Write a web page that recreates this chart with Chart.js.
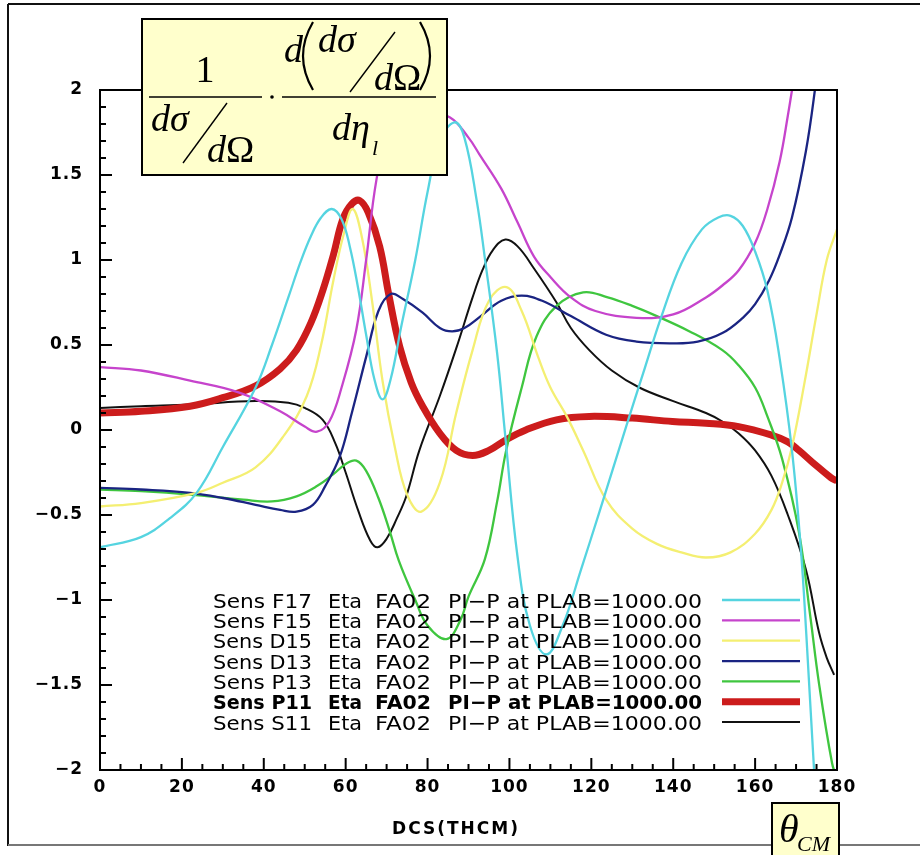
<!DOCTYPE html>
<html>
<head>
<meta charset="utf-8">
<script src="https://cdn.jsdelivr.net/npm/chart.js@4.4.1/dist/chart.umd.min.js"></script>
<style>
  html, body { margin: 0; padding: 0; background: #fff; overflow: hidden; }
  canvas { display: block; }
</style>
</head>
<body>
<canvas id="sensibilidade" width="920" height="855"></canvas>
<script>
// valores (x em graus, y = sensibilidade)
var xF17 = [0, 10, 17, 23.6, 30, 38, 42, 46, 49, 51.5, 54, 56.6, 59, 61, 63, 65, 67, 69, 71, 73.5, 77, 80, 83, 86.6, 89, 92, 94, 97, 99, 102, 105, 109, 113, 117.5, 122, 128.5, 133, 137, 142, 147, 151, 154, 157, 160, 163, 166, 169, 171.2, 172.5, 174.4, 176];
var yF17 = [-0.69, -0.63, -0.52, -0.37, -0.10, 0.25, 0.50, 0.78, 0.99, 1.14, 1.25, 1.30, 1.24, 1.08, 0.84, 0.56, 0.30, 0.18, 0.30, 0.60, 1.00, 1.40, 1.70, 1.81, 1.72, 1.35, 1.01, 0.45, -0.04, -0.75, -1.15, -1.32, -1.15, -0.82, -0.48, 0.02, 0.36, 0.66, 0.98, 1.18, 1.25, 1.26, 1.20, 1.05, 0.82, 0.42, -0.12, -0.71, -1.20, -2.00, -2.60];

var xF15 = [0, 10, 22, 34, 44, 50, 53, 56, 59, 62.6, 65, 67.5, 70, 74, 80, 85.4, 90, 92.7, 98, 102, 106, 110, 115, 121, 131, 140, 148, 152, 156, 160, 163, 166, 168, 170];
var yF15 = [0.37, 0.35, 0.29, 0.22, 0.11, 0.02, -0.01, 0.05, 0.25, 0.59, 1.00, 1.47, 1.70, 1.82, 1.86, 1.84, 1.72, 1.62, 1.42, 1.22, 1.02, 0.90, 0.78, 0.70, 0.66, 0.68, 0.78, 0.85, 0.94, 1.10, 1.30, 1.58, 1.85, 2.15];

var xD15 = [0, 10, 23.6, 30, 38, 45, 50.5, 54, 57, 59.5, 61.7, 64, 66.5, 69, 72, 75, 78.5, 83, 87, 91, 95, 99.3, 103, 107, 110, 114, 118, 123.6, 130, 136, 142, 148, 154, 160, 164, 166.6, 169, 172, 175, 177.5, 180];
var yD15 = [-0.45, -0.43, -0.37, -0.31, -0.22, -0.03, 0.20, 0.50, 0.88, 1.15, 1.30, 1.13, 0.75, 0.29, -0.10, -0.38, -0.48, -0.31, 0.10, 0.47, 0.76, 0.84, 0.70, 0.43, 0.25, 0.08, -0.12, -0.41, -0.58, -0.67, -0.72, -0.75, -0.72, -0.61, -0.47, -0.31, -0.10, 0.27, 0.68, 1.00, 1.18];

var xD13 = [0, 10, 22, 30, 38, 44, 48, 52, 55, 58.5, 61.5, 65, 68, 71, 74, 78.8, 83, 86, 89, 93, 98, 103, 108, 115, 123.6, 131, 139.8, 146, 152, 157, 160, 163.4, 166, 169, 172.4, 174.6, 176];
var yD13 = [-0.34, -0.35, -0.37, -0.40, -0.44, -0.47, -0.48, -0.44, -0.33, -0.16, 0.10, 0.43, 0.70, 0.80, 0.77, 0.69, 0.60, 0.58, 0.60, 0.67, 0.76, 0.79, 0.76, 0.67, 0.56, 0.52, 0.51, 0.52, 0.57, 0.66, 0.74, 0.88, 1.03, 1.25, 1.64, 2.00, 2.30];

var xP13 = [0, 10, 22, 35, 42, 48, 53, 57, 60, 62.6, 65, 68, 70.7, 73, 77, 80, 84.6, 88, 90, 94, 97, 99.2, 103, 106.6, 111.5, 118, 124, 130, 136, 144, 152, 156, 160, 163, 166.6, 170.7, 173.5, 175.6, 178.8, 180];
var yP13 = [-0.35, -0.36, -0.38, -0.41, -0.42, -0.39, -0.33, -0.26, -0.20, -0.18, -0.24, -0.40, -0.59, -0.77, -1.00, -1.15, -1.23, -1.12, -0.98, -0.76, -0.42, -0.12, 0.25, 0.55, 0.73, 0.81, 0.78, 0.73, 0.67, 0.58, 0.47, 0.38, 0.25, 0.08, -0.17, -0.60, -1.10, -1.49, -1.96, -2.05];

var xP11 = [0, 10, 22, 30, 38, 44, 48, 51.5, 54.4, 57, 59.3, 61.5, 63.4, 65.5, 68.3, 70.5, 73.2, 76, 78.8, 83, 87, 91, 95, 99, 104, 111.5, 119.5, 130, 139.8, 148, 156, 164, 168, 170.7, 174, 178.5, 180];
var yP11 = [0.10, 0.11, 0.14, 0.19, 0.26, 0.36, 0.47, 0.63, 0.82, 1.03, 1.24, 1.33, 1.35, 1.28, 1.08, 0.80, 0.49, 0.28, 0.14, -0.02, -0.12, -0.15, -0.12, -0.06, 0.00, 0.06, 0.08, 0.07, 0.05, 0.04, 0.02, -0.03, -0.07, -0.12, -0.19, -0.28, -0.30];

var xS11 = [0, 10, 22, 38, 46, 50, 54.4, 57.5, 60, 63, 66, 67.8, 70, 72.5, 74.8, 78, 83, 87, 91, 93.4, 96, 99, 102, 106, 111.5, 115, 119.5, 125, 131.7, 140, 148, 152, 156, 160, 164, 168, 172.4, 175.6, 177.5, 179.3];
var yS11 = [0.13, 0.14, 0.15, 0.17, 0.16, 0.13, 0.06, -0.08, -0.25, -0.47, -0.65, -0.69, -0.64, -0.52, -0.39, -0.12, 0.20, 0.48, 0.78, 0.94, 1.06, 1.12, 1.08, 0.95, 0.75, 0.60, 0.47, 0.35, 0.25, 0.17, 0.10, 0.05, -0.02, -0.12, -0.27, -0.50, -0.82, -1.19, -1.34, -1.44];

var nomes = ["Sens F17", "Sens F15", "Sens D15", "Sens D13", "Sens P13", "Sens P11", "Sens S11"];
var colunasLegenda = ["Eta", "FA02", "PI\u2212P at PLAB=1000.00"];
var cores = ["#55d4e0", "#c644cc", "#f4ef72", "#1a2482", "#3fc63f", "#cc1c1c", "#111111"];
var espessuras = [2.3, 2.3, 2.3, 2.3, 2.3, 7, 2];

var xs = [xF17, xF15, xD15, xD13, xP13, xP11, xS11];
var ys = [yF17, yF15, yD15, yD13, yP13, yP11, yS11];

function pontos(x, y) {
    return x.map(function (v, i) { return { x: v, y: y[i] }; });
}

var conjuntos = nomes.map(function (nome, i) {
    return {
        label: nome,
        data: pontos(xs[i], ys[i]),
        borderColor: cores[i],
        borderWidth: espessuras[i],
        fill: false,
        clip: 0
    };
});

function traco(ctx, x1, y1, x2, y2) {
    ctx.beginPath();
    ctx.moveTo(x1, y1);
    ctx.lineTo(x2, y2);
    ctx.stroke();
}

function serif(ctx, s, x, y, tam, italico) {
    ctx.font = (italico ? 'italic ' : '') + tam + 'px "Liberation Serif", "Times New Roman", serif';
    ctx.fillText(s, x, y);
}

function parentese(ctx, x0, xm, y0, y1) {
    ctx.beginPath();
    ctx.moveTo(x0, y0);
    ctx.quadraticCurveTo(xm, (y0 + y1) / 2, x0, y1);
    ctx.stroke();
}

// texto esticado para ocupar a largura entre x0 e x1
function textoAjustado(ctx, s, x0, x1, y) {
    var w = ctx.measureText(s).width;
    ctx.save();
    ctx.translate(x0, y);
    ctx.scale((x1 - x0) / w, 1);
    ctx.fillText(s, 0, 0);
    ctx.restore();
}

function formula(ctx) {
    ctx.fillStyle = '#ffffcc';
    ctx.fillRect(142, 19, 305, 156);
    ctx.lineWidth = 2;
    ctx.strokeStyle = '#000';
    ctx.strokeRect(142, 19, 305, 156);

    ctx.fillStyle = '#000';
    ctx.textBaseline = 'alphabetic';
    ctx.lineWidth = 1.4;

    // 1 / (dσ/dΩ)
    ctx.textAlign = 'center';
    serif(ctx, '1', 205, 82, 38, false);
    ctx.textAlign = 'left';
    traco(ctx, 149, 97, 262, 97);
    serif(ctx, 'd\u03c3', 151, 131, 38, true);
    traco(ctx, 183, 163, 227, 103);
    serif(ctx, 'd', 207, 162, 38, true);
    serif(ctx, '\u03a9', 226, 162, 38, false);

    ctx.beginPath();
    ctx.arc(272, 97, 1.8, 0, Math.PI * 2);
    ctx.fill();

    // d(dσ/dΩ) / dη_l
    traco(ctx, 282, 97, 436, 97);
    serif(ctx, 'd', 284, 62, 38, true);
    ctx.lineWidth = 2.2;
    parentese(ctx, 313, 293, 22, 90);
    parentese(ctx, 420, 440, 22, 90);
    ctx.lineWidth = 1.4;
    serif(ctx, 'd\u03c3', 318, 52, 38, true);
    traco(ctx, 350, 92, 395, 32);
    serif(ctx, 'd', 374, 90, 38, true);
    serif(ctx, '\u03a9', 393, 90, 38, false);
    serif(ctx, 'd\u03b7', 332, 140, 38, true);
    serif(ctx, 'l', 372, 155, 22, true);
}

function rotuloTheta(ctx) {
    ctx.fillStyle = '#ffffcc';
    ctx.fillRect(772, 803, 67, 60);
    ctx.lineWidth = 2;
    ctx.strokeStyle = '#000';
    ctx.strokeRect(772, 803, 67, 60);
    ctx.fillStyle = '#000';
    ctx.textAlign = 'left';
    ctx.textBaseline = 'alphabetic';
    serif(ctx, '\u03b8', 779, 842, 40, true);
    serif(ctx, 'CM', 797, 851, 22, true);
}

var desenhoExtra = {
    id: 'desenhoExtra',
    beforeDraw: function (chart) {
        var ctx = chart.ctx;
        ctx.save();
        ctx.fillStyle = '#fff';
        ctx.fillRect(0, 0, chart.width, chart.height);
        // moldura externa
        ctx.strokeStyle = '#111';
        ctx.lineWidth = 2;
        traco(ctx, 8, 4, 920, 4);
        traco(ctx, 8, 4, 8, 846);
        ctx.strokeStyle = '#777';
        traco(ctx, 8, 845, 920, 845);
        ctx.restore();
        ctx.letterSpacing = '1px';
    },
    beforeDatasetsDraw: function (chart) {
        chart.ctx.letterSpacing = '0px';
    },
    afterDatasetsDraw: function (chart) {
        var ctx = chart.ctx;
        var a = chart.chartArea;
        var sx = chart.scales.x, sy = chart.scales.y;
        ctx.save();
        ctx.letterSpacing = '0px';

        // caixa do gráfico e marcas dos eixos
        ctx.strokeStyle = '#000';
        ctx.lineWidth = 2;
        ctx.strokeRect(a.left, a.top, a.right - a.left, a.bottom - a.top);
        for (var i = -20; i <= 20; i++) {
            var py = sy.getPixelForValue(i / 10);
            traco(ctx, a.left, py, a.left + (i % 5 === 0 ? 12 : 6), py);
        }
        for (var j = 0; j <= 36; j++) {
            var px = sx.getPixelForValue(j * 5);
            traco(ctx, px, a.bottom, px, a.bottom - (j % 4 === 0 ? 12 : 6));
        }

        // legenda
        chart.data.datasets.forEach(function (ds, k) {
            var y = 600 + k * 20.35;
            ctx.strokeStyle = ds.borderColor;
            ctx.lineWidth = ds.borderWidth;
            traco(ctx, 722, y, 800, y);
            ctx.fillStyle = '#000';
            ctx.textAlign = 'left';
            ctx.textBaseline = 'alphabetic';
            ctx.font = (k === 5 ? 'bold ' : '') + '20px "DejaVu Sans", sans-serif';
            var b = y + 7.5;
            textoAjustado(ctx, ds.label, 213, 312, b);
            textoAjustado(ctx, colunasLegenda[0], 328, 362, b);
            textoAjustado(ctx, colunasLegenda[1], 375, 431, b);
            textoAjustado(ctx, colunasLegenda[2], 448, 702, b);
        });

        // título do eixo x
        ctx.font = 'bold 17px "DejaVu Sans", sans-serif';
        ctx.fillStyle = '#000';
        ctx.textAlign = 'center';
        ctx.letterSpacing = '2px';
        ctx.fillText('DCS(THCM)', 456, 834);
        ctx.letterSpacing = '0px';

        formula(ctx);
        rotuloTheta(ctx);
        ctx.restore();
    }
};

var fonteEixo = { family: '"DejaVu Sans", sans-serif', size: 17, weight: 'bold' };

var ctx = document.getElementById('sensibilidade').getContext('2d');
var grafico = new Chart(ctx, {
    type: 'line',
    data: { datasets: conjuntos },
    options: {
        responsive: false,
        animation: false,
        devicePixelRatio: 1,
        layout: { padding: { top: 90, right: 83, left: 0, bottom: 0 } },
        plugins: {
            legend: { display: false },
            tooltip: { enabled: false }
        },
        elements: {
            point: { radius: 0 },
            line: { tension: 0.4 }
        },
        scales: {
            x: {
                type: 'linear',
                min: 0,
                max: 180,
                grid: { display: false, drawTicks: false },
                border: { display: false },
                ticks: { stepSize: 20, color: '#000', font: fonteEixo, padding: 7, maxRotation: 0 },
                afterFit: function (s) { s.height = 85; }
            },
            y: {
                min: -2,
                max: 2,
                grid: { display: false, drawTicks: false },
                border: { display: false },
                ticks: {
                    stepSize: 0.5,
                    color: '#000',
                    font: fonteEixo,
                    padding: 17,
                    callback: function (v) { return String(v).replace('-', '\u2212'); }
                },
                afterFit: function (s) { s.width = 100; }
            }
        }
    },
    plugins: [desenhoExtra]
});
</script>
</body>
</html>
